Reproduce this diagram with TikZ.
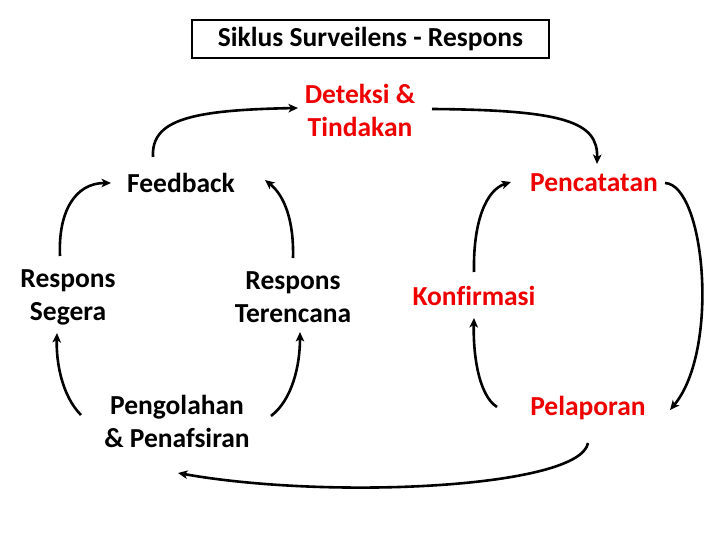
\documentclass[tikz,border=0pt]{standalone}
\usepackage{fontspec}
\setmainfont{Carlito}[Ligatures=NoCommon]
\usetikzlibrary{arrows.meta}
\definecolor{lblred}{RGB}{238,0,0}
\tikzset{
  lbl/.style={font=\fontsize{27.5}{33}\selectfont\bfseries, align=center, inner sep=0pt},
  redlbl/.style={lbl, text=lblred},
  conn/.style={line width=2.6pt, -{Stealth[length=9.5pt,width=8.5pt,inset=2.5pt]}},
}
\begin{document}
\begin{tikzpicture}[x=1pt,y=-1pt]
\useasboundingbox (0,0) rectangle (720,540);
\node[lbl, draw, line width=1.8pt, minimum width=357pt, minimum height=38pt] (title) at (370.5,39) {Siklus Surveilens - Respons};
\node[redlbl] (det) at (360,110) {Deteksi \&\\Tindakan};
\node[lbl] (fb) at (181,183) {Feedback};
\node[redlbl] (pen) at (594,183) {Pencatatan};
\node[lbl] (rs) at (68,297) {Respons\\Segera};
\node[lbl] (rt) at (293,297) {Respons\\Terencana};
\node[redlbl] (konf) at (474,296) {Konfirmasi};
\node[redlbl] (pel) at (588,408) {Pelaporan};
\node[lbl] (peng) at (177,421) {Pengolahan\\\& Penafsiran};
% connector endpoints
\coordinate (fbO) at (153,157);
\coordinate (detI) at (298,108);
\coordinate (detO) at (432,109);
\coordinate (penI) at (597,164);
\coordinate (penO) at (665,183);
\coordinate (pelI) at (670,410);
\coordinate (pelO1) at (497,407);
\coordinate (konfI) at (474,318);
\coordinate (konfO) at (474,272);
\coordinate (penI2) at (511,182);
\coordinate (pelO2) at (588,443);
\coordinate (pengI) at (178,473);
\coordinate (pengO1) at (81,415);
\coordinate (rsI) at (57,333);
\coordinate (rsO) at (60,256);
\coordinate (fbI1) at (111,183);
\coordinate (rtO) at (293,258);
\coordinate (fbI2) at (265,180);
\coordinate (pengO2) at (271,416);
\coordinate (rtI) at (300,332);
\draw[conn] (fbO) .. controls (151,120) and (190,110) .. (detI);
\draw[conn] (detO) .. controls (565,110) and (598,122) .. (penI);
\draw[conn] (penO) .. controls (705,185) and (720,350) .. (pelI);
\draw[conn] (pelO1) .. controls (478,395) and (473,352) .. (konfI);
\draw[conn] (konfO) .. controls (473,222) and (486,190) .. (penI2);
\draw[conn] (pelO2) .. controls (580,488) and (330,500) .. (pengI);
\draw[conn] (pengO1) .. controls (62,396) and (56,362) .. (rsI);
\draw[conn] (rsO) .. controls (58,212) and (75,183) .. (fbI1);
\draw[conn] (rtO) .. controls (294,222) and (285,196) .. (fbI2);
\draw[conn] (pengO2) .. controls (292,400) and (300,366) .. (rtI);
\end{tikzpicture}
\end{document}
